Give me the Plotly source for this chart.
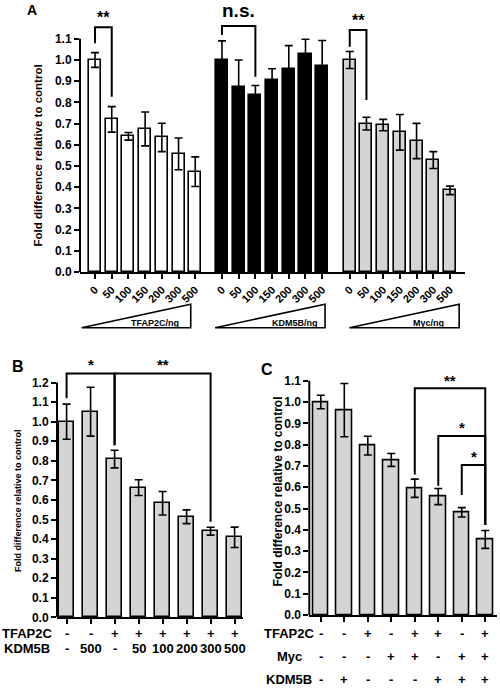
import plotly.graph_objects as go

# ---------------- data ----------------
doses = ["0", "50", "100", "150", "200", "300", "500"]
a_groups = ["TFAP2C/ng", "KDM5B/ng", "Myc/ng"]
a_tfap2c_mean = [1.00, 0.72, 0.64, 0.675, 0.635, 0.557, 0.473]
a_tfap2c_err = [0.035, 0.06, 0.018, 0.08, 0.067, 0.075, 0.07]
a_kdm5b_mean = [1.00, 0.875, 0.835, 0.904, 0.958, 1.028, 0.972]
a_kdm5b_err = [0.09, 0.125, 0.045, 0.055, 0.11, 0.07, 0.12]
a_myc_mean = [1.00, 0.70, 0.693, 0.659, 0.618, 0.528, 0.385]
a_myc_err = [0.04, 0.03, 0.027, 0.084, 0.083, 0.04, 0.02]

b_tfap2c = ["-", "-", "+", "+", "+", "+", "+", "+"]
b_kdm5b = ["-", "500", "-", "50", "100", "200", "300", "500"]
b_mean = [1.0, 1.051, 0.809, 0.663, 0.583, 0.514, 0.44, 0.409]
b_err = [0.09, 0.125, 0.045, 0.04, 0.06, 0.035, 0.02, 0.052]

c_tfap2c = ["-", "-", "+", "-", "+", "+", "-", "+"]
c_myc = ["-", "-", "-", "+", "+", "-", "+", "+"]
c_kdm5b = ["-", "+", "-", "-", "-", "+", "+", "+"]
c_mean = [1.0, 0.962, 0.795, 0.728, 0.595, 0.556, 0.482, 0.355]
c_err = [0.032, 0.125, 0.044, 0.03, 0.043, 0.038, 0.022, 0.042]

y_ticks_a = [round(0.1 * i, 1) for i in range(12)]
y_ticks_b = [round(0.1 * i, 1) for i in range(13)]
y_ticks_c = [round(0.1 * i, 1) for i in range(12)]

# significance brackets: (left bar, right bar, top, left-leg bottom, right-leg bottom, label)
a_sig = [(0, 1, 1.155, 1.079, 0.827, "**"),
         (0, 2, 1.16, 1.118, 0.921, "n.s."),
         (0, 1, 1.142, 1.063, 0.811, "**")]
b_sig = [(0, 2, 1.247, 1.12, 0.88, "*"), (2, 6, 1.247, 0.88, 0.489, "**")]
c_sig = [(4, 7, 1.064, 0.66, 0.423, "**"), (5, 7, 0.84, 0.607, 0.423, "*"),
         (6, 7, 0.704, 0.563, 0.423, "*")]

# ---------------- layout helpers ----------------
W, H = 500, 689
FONT = "Liberation Sans, Arial, Helvetica, sans-serif"


def px(x, y):
    return x / W, 1 - y / H


def bfont(size):
    return dict(size=size, family=FONT, color="black", weight="bold")


fig = go.Figure()
shapes = []
annotations = []

# -------- Panel A --------
a_offsets = [0, 7.6, 15.25]
a_fills = ["white", "black", "#d4d4d4"]
a_means = [a_tfap2c_mean, a_kdm5b_mean, a_myc_mean]
a_errs = [a_tfap2c_err, a_kdm5b_err, a_myc_err]
a_tickvals, a_ticktext = [], []
for g in range(3):
    xs = [a_offsets[g] + i for i in range(len(doses))]
    a_tickvals += xs
    a_ticktext += doses
    fig.add_trace(go.Bar(
        x=xs, y=a_means[g], width=0.72, xaxis="x", yaxis="y",
        marker=dict(color=a_fills[g], line=dict(color="black", width=1.6)),
        error_y=dict(type="data", array=a_errs[g], color="black", thickness=1.6, width=4),
    ))
    l, r, top, lb, rb, lab = a_sig[g]
    xl, xr = xs[l], xs[r]
    shapes.append(dict(type="path", xref="x", yref="y",
                       path=f"M {xl} {lb} L {xl} {top} L {xr} {top} L {xr} {rb}",
                       line=dict(color="black", width=2)))
    big = lab == "n.s."
    annotations.append(dict(x=(xl + xr) / 2, y=top + (0.015 if big else -0.005), xref="x", yref="y",
                            text=lab, showarrow=False, xanchor="center", yanchor="bottom",
                            font=bfont(19 if big else 16)))

# wedges
a_wedges = [(-0.8, 5.73), (7.19, 13.77), (15.23, 21.8)]
a_wedge_text_x = [3.6, 12.0, 19.94]
wb = 1 - 327.7 / H
wt = 1 - 304.3 / H
for g in range(3):
    x0, x1 = a_wedges[g]
    shapes.append(dict(type="path", xref="x", yref="paper",
                       path=f"M {x0} {wb} L {x1} {wb} L {x1} {wt} Z",
                       line=dict(color="black", width=1.6), fillcolor="white"))
    annotations.append(dict(x=a_wedge_text_x[g], y=1 - 322.5 / H, xref="x", yref="paper",
                            text=a_groups[g], showarrow=False, xanchor="center", yanchor="middle",
                            font=bfont(9)))

# y axis line A
shapes.append(dict(type="line", xref="x domain", yref="y", x0=0, x1=0, y0=0, y1=1.1,
                   line=dict(color="black", width=2)))

# -------- Panel B --------
bx = list(range(len(b_mean)))
fig.add_trace(go.Bar(
    x=bx, y=b_mean, width=0.65, xaxis="x2", yaxis="y2",
    marker=dict(color="#d4d4d4", line=dict(color="black", width=1.6)),
    error_y=dict(type="data", array=b_err, color="black", thickness=1.6, width=4),
))
for l, r, top, lb, rb, lab in b_sig:
    shapes.append(dict(type="path", xref="x2", yref="y2",
                       path=f"M {l} {lb} L {l} {top} L {r} {top} L {r} {rb}",
                       line=dict(color="black", width=2)))
    annotations.append(dict(x=(l + r) / 2, y=top - 0.01, xref="x2", yref="y2", text=lab,
                            showarrow=False, xanchor="center", yanchor="bottom", font=bfont(15)))
shapes.append(dict(type="line", xref="x2 domain", yref="y2", x0=0, x1=0, y0=0, y1=1.2,
                   line=dict(color="black", width=2)))
for rowname, vals, ypx in [("TFAP2C", b_tfap2c, 633.3), ("KDM5B", b_kdm5b, 648.5)]:
    annotations.append(dict(x=27 / W, y=1 - ypx / H, xref="paper", yref="paper", text=rowname,
                            showarrow=False, xanchor="center", yanchor="middle", font=bfont(13)))
    for i, v in enumerate(vals):
        annotations.append(dict(x=i, y=1 - ypx / H, xref="x2", yref="paper", text=v,
                                showarrow=False, xanchor="center", yanchor="middle", font=bfont(13)))

# -------- Panel C --------
cx = list(range(len(c_mean)))
fig.add_trace(go.Bar(
    x=cx, y=c_mean, width=0.67, xaxis="x3", yaxis="y3",
    marker=dict(color="#d4d4d4", line=dict(color="black", width=1.6)),
    error_y=dict(type="data", array=c_err, color="black", thickness=1.6, width=4),
))
for l, r, top, lb, rb, lab in c_sig:
    shapes.append(dict(type="path", xref="x3", yref="y3",
                       path=f"M {l} {lb} L {l} {top} L {r} {top} L {r} {rb}",
                       line=dict(color="black", width=2)))
    annotations.append(dict(x=(l + r) / 2, y=top - 0.01, xref="x3", yref="y3", text=lab,
                            showarrow=False, xanchor="center", yanchor="bottom", font=bfont(15)))
shapes.append(dict(type="line", xref="x3 domain", yref="y3", x0=0, x1=0, y0=0, y1=1.1,
                   line=dict(color="black", width=2)))
for rowname, vals, ypx in [("TFAP2C", c_tfap2c, 633.3), ("Myc", c_myc, 656), ("KDM5B", c_kdm5b, 679)]:
    annotations.append(dict(x=289 / W, y=1 - ypx / H, xref="paper", yref="paper", text=rowname,
                            showarrow=False, xanchor="center", yanchor="middle", font=bfont(13)))
    for i, v in enumerate(vals):
        annotations.append(dict(x=i, y=1 - ypx / H, xref="x3", yref="paper", text=v,
                                showarrow=False, xanchor="center", yanchor="middle", font=bfont(13)))

# -------- titles and panel letters --------
for txt, x, y, size in [("Fold difference relative to control", 38, 155.5, 11.5),
                        ("Fold difference relative to control", 18, 501, 9),
                        ("Fold difference relative to control", 277, 491.5, 12)]:
    X, Y = px(x, y)
    annotations.append(dict(x=X, y=Y, xref="paper", yref="paper", text=txt, textangle=-90,
                            showarrow=False, xanchor="center", yanchor="middle", font=bfont(size)))
for txt, x, y, size in [("A", 32, 9.5, 14), ("B", 18, 366, 16), ("C", 267, 369, 16)]:
    X, Y = px(x, y)
    annotations.append(dict(x=X, y=Y, xref="paper", yref="paper", text=txt,
                            showarrow=False, xanchor="center", yanchor="middle", font=bfont(size)))


def yax(domain, rng, tv, anchor):
    return dict(domain=domain, range=rng, anchor=anchor, tickvals=tv,
                ticktext=[f"{v:.1f}" for v in tv], automargin=False,
                showline=False, ticks="outside", ticklen=5, tickwidth=2, tickcolor="black",
                showgrid=False, zeroline=False, tickfont=bfont(12), fixedrange=True)


def xax(domain, rng, anchor, **kw):
    d = dict(domain=domain, range=rng, anchor=anchor, showline=True, linecolor="black",
             linewidth=2, ticks="outside", ticklen=5, tickwidth=2, tickcolor="black",
             showgrid=False, zeroline=False, fixedrange=True, automargin=False)
    d.update(kw)
    return d


fig.update_layout(
    width=W, height=H, margin=dict(l=0, r=0, t=0, b=0, pad=0, autoexpand=False),
    paper_bgcolor="white", plot_bgcolor="white", showlegend=False, bargap=0,
    font=dict(family=FONT, color="black"),
    xaxis=xax([80 / W, 465 / W], [-0.9, 22.15], "y", tickvals=a_tickvals, ticktext=a_ticktext,
              tickangle=-45, tickfont=bfont(11)),
    yaxis=yax([1 - 272 / H, 1 - (272 - 212 * 1.25) / H], [0, 1.25], y_ticks_a, "x"),
    xaxis2=xax([57 / W, 243 / W], [-0.4, 7.35], "y2", tickvals=bx, showticklabels=False),
    yaxis2=yax([1 - 617.3 / H, 1 - (617.3 - 195.6 * 1.3) / H], [0, 1.3], y_ticks_b, "x2"),
    xaxis3=xax([309.3 / W, 497 / W], [-0.49, 7.5], "y3", tickvals=cx, showticklabels=False),
    yaxis3=yax([1 - 615 / H, 1 - (615 - 213 * 1.2) / H], [0, 1.2], y_ticks_c, "x3"),
    shapes=shapes, annotations=annotations,
)

fig.write_html("out.html", config={"displayModeBar": False},
               post_script="document.body.style.margin='0';document.body.style.overflow='hidden';")
